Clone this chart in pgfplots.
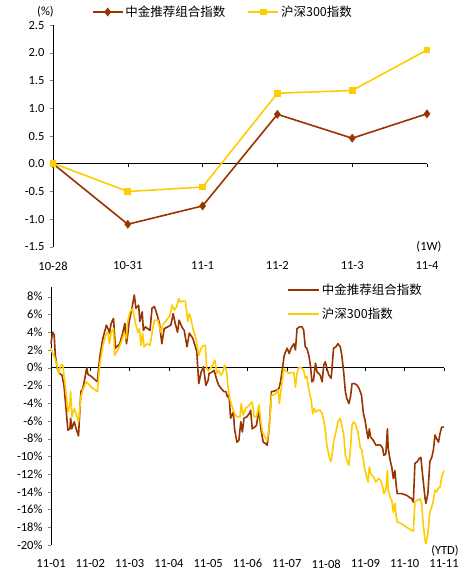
\documentclass[border=0pt]{standalone}
\usepackage{fontspec}
\setmainfont{Carlito}
\newfontfamily\cjk{Noto Sans CJK SC}
\usepackage{pgfplots}
\pgfplotsset{compat=1.18}
\definecolor{zjbrown}{RGB}{153,51,0}
\definecolor{hsyellow}{RGB}{255,204,0}
\begin{document}
\begin{tikzpicture}[font=\fontsize{12.5}{15}\selectfont]
\useasboundingbox (0,0) rectangle (468pt,575pt);
% ---------------- top chart ----------------
\begin{axis}[
  at={(53pt,328pt)}, anchor=south west,
  scale only axis, width=374pt, height=222pt,
  xmin=0, xmax=5, ymin=-1.5, ymax=2.5,
  axis y line*=left, axis x line*=bottom,
  x axis line style={draw=none},
  xtick={0,...,5}, xticklabels={10-28,10-31,11-1,11-2,11-3,11-4},
  ytick={-1.5,-1,...,2.5},
  tick align=outside, major tick length=3pt,
  xtick style={draw=none},
  /pgf/number format/.cd, fixed, fixed zerofill, precision=1, assume math mode=true,
  /pgfplots/.cd,
  xticklabel style={yshift=-8pt},
  yticklabel style={xshift=-2pt},
  clip=false,
  legend columns=2,
  legend cell align=left,
  legend style={draw=none, fill=none, inner sep=0pt, outer sep=0pt,
    at={(axis description cs:0.104,1.0586)}, anchor=west,
    font=\cjk\fontsize{12.5}{15}\selectfont,
    nodes={inner sep=2pt},
    /tikz/every even column/.append style={column sep=20pt}},
  legend image code/.code={\draw[mark repeat=2,mark phase=2,#1] plot coordinates {(0pt,0pt) (15pt,0pt) (30pt,0pt)};},
]
\draw[black, line width=0.8pt] (axis cs:0,0) -- (axis cs:5,0);
\pgfplotsinvokeforeach{1,...,5}{\draw[black, line width=0.6pt] (axis cs:#1,0) -- ([yshift=-3pt]axis cs:#1,0);}
\addplot[color=zjbrown, line width=1.6pt, mark=diamond*, mark size=3.2pt] coordinates {(0,0) (1,-1.09) (2,-0.76) (3,0.89) (4,0.46) (5,0.90)};
\addlegendentry{中金推荐组合指数}
\addplot[color=hsyellow, line width=1.6pt, mark=square*, mark size=2.6pt] coordinates {(0,0.01) (1,-0.50) (2,-0.42) (3,1.27) (4,1.32) (5,2.05)};
\addlegendentry{沪深300指数}
\node at (rel axis cs:1,0) [xshift=2pt] {(1W)};
\node at (rel axis cs:0,1) [xshift=-7.5pt, yshift=13pt] {(\%)};
\end{axis}
% ---------------- bottom chart ----------------
\begin{axis}[
  at={(51pt,30pt)}, anchor=south west,
  scale only axis, width=393pt, height=258pt,
  xmin=0, xmax=10, ymin=-20, ymax=9.1,
  axis y line*=left, axis x line*=bottom,
  x axis line style={draw=none},
  xtick={0,...,10}, xticklabels={11-01,11-02,11-03,11-04,11-05,11-06,11-07,11-08,11-09,11-10,11-11},
  ytick={-20,-18,...,8},
  tick align=outside, major tick length=3pt,
  xtick style={draw=none},
  /pgf/number format/assume math mode=true,
  yticklabel={\pgfmathprintnumber{\tick}\%},
  xticklabel style={yshift=-8pt},
  yticklabel style={xshift=-2pt},
  clip=false,
  legend cell align=left,
  legend style={draw=none, fill=none, inner sep=0pt, outer sep=0pt,
    at={(axis description cs:0.6005,1.018)}, anchor=north west,
    font=\cjk\fontsize{12.5}{15}\selectfont,
    nodes={inner sep=2pt}, row sep=8pt},
  legend image code/.code={\draw[#1, line width=2pt] (0pt,0pt) -- (31pt,0pt);},
]
\draw[black, line width=0.8pt] (axis cs:0,0) -- (axis cs:10,0);
\pgfplotsinvokeforeach{1,...,10}{\draw[black, line width=0.6pt] (axis cs:#1,0) -- ([yshift=-3pt]axis cs:#1,0);}
\addplot[color=zjbrown, line width=1.6pt, line join=round] coordinates {
(0,2.7)(0.04,4.0)(0.08,3.7)(0.11,1.4)(0.16,-0.1)(0.22,-0.65)(0.28,-0.85)(0.33,-2.0)(0.39,-5.0)(0.43,-7.05)(0.48,-6.9)(0.50,-5.7)(0.53,-6.9)(0.59,-6.1)(0.64,-6.9)(0.70,-7.7)(0.76,-2.7)(0.81,-2.35)(0.87,-1.0)(0.91,0.0)(0.94,-0.75)(1.03,-1.0)(1.18,-1.6)(1.24,1.2)(1.32,3.3)(1.41,4.8)(1.45,4.4)(1.49,3.9)(1.53,5.0)(1.59,5.55)(1.64,2.2)(1.75,2.7)(1.83,4.0)(1.88,5.0)(1.92,2.7)(1.96,4.0)(1.99,5.2)(2.06,6.7)(2.12,8.2)(2.16,6.7)(2.23,7.05)(2.26,5.2)(2.32,6.3)(2.35,4.2)(2.40,4.6)(2.46,4.4)(2.52,4.2)(2.57,6.7)(2.63,6.9)(2.69,6.1)(2.76,5.0)(2.82,2.7)(2.88,4.4)(2.97,4.6)(3.05,4.8)(3.11,6.1)(3.16,5.0)(3.22,4.0)(3.26,5.35)(3.33,4.6)(3.39,4.2)(3.46,2.35)(3.52,3.9)(3.61,3.3)(3.65,2.7)(3.71,1.8)(3.76,-1.8)(3.82,-0.5)(3.88,0.1)(3.94,-2.0)(4.00,-1.4)(4.02,-0.65)(4.08,-0.55)(4.15,-0.3)(4.22,-1.4)(4.27,-2.0)(4.33,-2.35)(4.40,-2.7)(4.45,-2.7)(4.49,-3.3)(4.53,-3.1)(4.57,-5.7)(4.64,-5.0)(4.67,-6.9)(4.73,-8.4)(4.78,-8.2)(4.83,-6.1)(4.87,-7.25)(4.91,-5.7)(4.98,-5.55)(5.04,-5.2)(5.08,-4.8)(5.12,-6.9)(5.18,-6.7)(5.23,-6.5)(5.29,-4.6)(5.34,-6.9)(5.40,-8.4)(5.46,-8.55)(5.50,-8.75)(5.55,-6.9)(5.61,-2.7)(5.67,-2.65)(5.76,-2.5)(5.80,-2.35)(5.84,-1.6)(5.89,-0.1)(5.93,1.3)(5.97,1.8)(6.01,2.2)(6.06,1.6)(6.11,2.2)(6.18,2.7)(6.22,2.0)(6.26,4.4)(6.32,4.6)(6.39,4.6)(6.43,4.2)(6.47,2.35)(6.51,2.2)(6.56,1.4)(6.60,0.3)(6.64,-1.6)(6.68,-1.4)(6.73,0.5)(6.77,-0.5)(6.81,-0.65)(6.85,-0.85)(6.90,-1.6)(6.94,0.3)(6.98,0.65)(7.02,-0.1)(7.07,-0.85)(7.13,-1.2)(7.19,2.2)(7.25,2.35)(7.30,2.7)(7.36,2.35)(7.40,1.4)(7.45,-0.65)(7.49,-2.7)(7.53,-3.5)(7.58,-4.05)(7.62,-3.3)(7.66,-1.8)(7.73,-1.8)(7.79,-2.0)(7.84,-2.35)(7.90,-3.1)(7.95,-5.2)(7.99,-5.9)(8.03,-7.05)(8.07,-8.0)(8.10,-6.9)(8.13,-7.8)(8.20,-8.2)(8.27,-8.75)(8.33,-8.7)(8.39,-8.75)(8.44,-9.1)(8.47,-9.9)(8.52,-9.7)(8.56,-6.9)(8.58,-9.1)(8.63,-10.45)(8.67,-11.2)(8.71,-12.5)(8.75,-11.6)(8.78,-13.1)(8.81,-14.2)(8.92,-14.2)(9.05,-14.4)(9.18,-14.8)(9.22,-15.15)(9.26,-10.8)(9.32,-10.6)(9.37,-10.25)(9.41,-10.1)(9.46,-12.3)(9.52,-14.8)(9.54,-15.3)(9.59,-14.2)(9.64,-10.6)(9.69,-10.1)(9.73,-9.3)(9.77,-7.6)(9.81,-8.0)(9.86,-8.4)(9.90,-7.4)(9.94,-6.7)(10,-6.7)
};
\addlegendentry{中金推荐组合指数}
\addplot[color=hsyellow, line width=1.6pt, line join=round] coordinates {
(0,2.2)(0.04,1.6)(0.09,1.2)(0.15,0.3)(0.20,-0.65)(0.25,0.3)(0.30,0.3)(0.35,-1.6)(0.39,-3.1)(0.43,-5.0)(0.48,-4.2)(0.50,-2.7)(0.53,-5.55)(0.59,-4.6)(0.64,-5.2)(0.70,-6.1)(0.76,-3.3)(0.81,-2.5)(0.90,-1.6)(1.03,-2.2)(1.18,-2.7)(1.24,0.3)(1.32,2.5)(1.41,3.9)(1.45,3.9)(1.49,2.7)(1.53,3.9)(1.59,4.4)(1.62,1.4)(1.70,2.0)(1.79,2.9)(1.86,3.9)(1.92,3.3)(1.95,5.2)(2.01,6.3)(2.08,6.7)(2.15,5.0)(2.21,4.0)(2.25,4.4)(2.29,2.5)(2.33,3.9)(2.37,2.35)(2.44,2.7)(2.52,2.5)(2.59,4.4)(2.63,5.35)(2.72,5.35)(2.76,4.6)(2.80,4.0)(2.84,4.8)(2.91,5.2)(2.97,5.55)(3.03,5.9)(3.08,7.05)(3.14,6.5)(3.20,6.9)(3.25,7.8)(3.29,7.4)(3.33,7.5)(3.42,7.5)(3.48,5.2)(3.52,6.1)(3.56,5.55)(3.62,4.2)(3.69,3.3)(3.76,1.4)(3.82,2.2)(3.88,2.5)(3.93,2.5)(3.96,-0.1)(3.99,-0.3)(4.06,-0.1)(4.13,0.5)(4.17,0.85)(4.22,-0.65)(4.27,-0.3)(4.32,-0.85)(4.36,-0.65)(4.42,0.3)(4.47,-0.5)(4.50,-2.0)(4.55,-3.5)(4.61,-4.4)(4.67,-5.2)(4.74,-5.55)(4.81,-5.55)(4.84,-4.05)(4.89,-5.35)(4.95,-4.6)(5.01,-4.4)(5.08,-4.05)(5.12,-3.85)(5.17,-5.55)(5.23,-5.55)(5.29,-4.2)(5.34,-6.1)(5.38,-7.25)(5.44,-7.8)(5.50,-8.2)(5.55,-6.9)(5.61,-3.1)(5.67,-3.1)(5.72,-2.9)(5.78,-2.5)(5.81,-4.05)(5.86,-2.35)(5.92,-0.1)(5.98,-0.4)(6.05,-0.65)(6.11,-0.55)(6.18,-0.55)(6.22,-2.2)(6.26,-0.65)(6.30,0.0)(6.37,0.0)(6.43,-0.3)(6.47,-1.2)(6.51,-1.0)(6.57,-2.7)(6.62,-3.65)(6.66,-5.2)(6.70,-4.6)(6.74,-5.0)(6.79,-4.8)(6.85,-4.8)(6.90,-5.2)(6.94,-5.9)(6.98,-7.05)(7.02,-8.75)(7.08,-10.1)(7.13,-10.6)(7.19,-8.4)(7.25,-7.25)(7.30,-6.1)(7.36,-5.7)(7.40,-6.5)(7.45,-7.6)(7.49,-9.9)(7.53,-10.45)(7.58,-11.0)(7.62,-9.1)(7.66,-6.5)(7.70,-6.1)(7.74,-6.3)(7.81,-7.25)(7.87,-9.0)(7.91,-9.3)(7.95,-10.5)(7.99,-11.6)(8.03,-12.3)(8.07,-12.9)(8.10,-11.2)(8.13,-11.9)(8.20,-12.3)(8.27,-12.9)(8.33,-12.5)(8.39,-12.7)(8.44,-13.45)(8.47,-14.2)(8.52,-13.8)(8.56,-11.6)(8.58,-13.8)(8.63,-14.6)(8.67,-14.95)(8.71,-16.3)(8.75,-15.3)(8.78,-16.65)(8.81,-17.4)(8.92,-17.6)(9.05,-18.0)(9.18,-18.35)(9.22,-18.45)(9.26,-15.15)(9.32,-14.95)(9.39,-14.8)(9.43,-15.3)(9.47,-17.6)(9.52,-19.5)(9.54,-19.85)(9.59,-18.7)(9.64,-16.3)(9.69,-15.7)(9.73,-14.95)(9.77,-13.8)(9.81,-14.0)(9.86,-13.6)(9.90,-13.45)(9.94,-12.3)(10,-11.6)
};
\addlegendentry{沪深300指数}
\node at (rel axis cs:1,0) [xshift=1pt, yshift=-6pt] {(YTD)};
\end{axis}
\end{tikzpicture}
\end{document}
